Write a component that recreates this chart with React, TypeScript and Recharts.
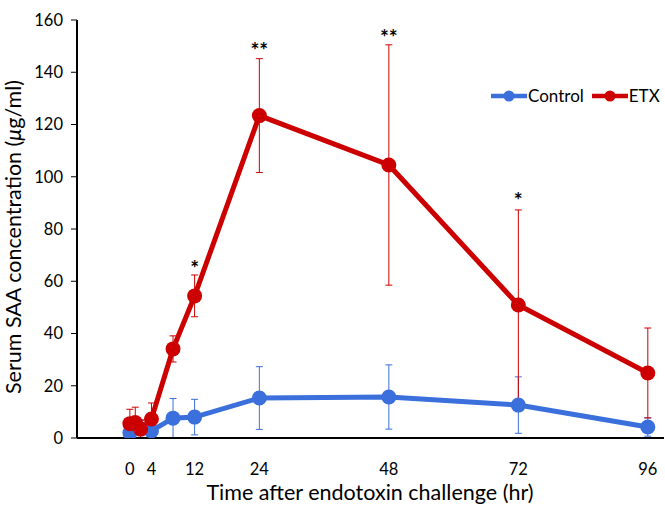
import { ComposedChart, Line, XAxis, YAxis, ErrorBar, LabelList } from 'recharts'

const hours = [0, 1, 2, 4, 8, 12, 24, 48, 72, 96]
const controlMean = [2.0, 4.0, 3.5, 2.7, 7.6, 8.0, 15.3, 15.7, 12.6, 4.2]
const controlSd = [2.0, 4.0, 3.5, 1.5, 7.5, 6.8, 12.0, 12.3, 10.8, 3.5]
const etxMean = [5.5, 5.9, 3.4, 7.3, 34.1, 54.4, 123.4, 104.5, 50.9, 24.9]
const etxSd = [5.5, 5.9, 3.4, 6.1, 5.0, 8.0, 21.8, 46.0, 36.4, 17.2]
const stars = ['', '', '', '', '', '*', '**', '**', '*', '']
const starLevel = [null, null, null, null, null, 64, 147.5, 152.5, 90, null]

const xTicks = [0, 4, 12, 24, 48, 72, 96]
const yTicks = [0, 20, 40, 60, 80, 100, 120, 140, 160]

const BLUE = '#3B6FDB'
const RED = '#CC0000'
const FONT = 'Lato, "DejaVu Sans", sans-serif'

const rows = hours.map((h, i) => ({
  hour: h,
  control: controlMean[i],
  controlErr: controlSd[i],
  etx: etxMean[i],
  etxErr: etxSd[i],
  star: starLevel[i],
}))

const legendItems = [
  { name: 'Control', color: BLUE },
  { name: 'ETX', color: RED },
]

function LegendBox() {
  return (
    <div
      style={{
        position: 'absolute',
        top: 85,
        left: 491,
        display: 'flex',
        alignItems: 'center',
        fontFamily: FONT,
        fontSize: 17,
        color: '#000',
      }}
    >
      {legendItems.map((it) => (
        <div key={it.name} style={{ display: 'flex', alignItems: 'center', marginRight: 8 }}>
          <svg width={36} height={12}>
            <line x1={0} y1={6} x2={36} y2={6} stroke={it.color} strokeWidth={4.5} />
            <circle cx={18} cy={6} r={5.5} fill={it.color} />
          </svg>
          <span style={{ marginLeft: 1 }}>{it.name}</span>
        </div>
      ))}
    </div>
  )
}

function StarLabel(props: any) {
  const { x, y, index } = props
  const txt = stars[index]
  if (!txt) return null
  return (
    <text x={x} y={y} textAnchor="middle" dominantBaseline="middle" fontFamily={FONT} fontWeight="bold" fontSize={21} fill="#000">
      {txt}
    </text>
  )
}

export default function App() {
  return (
    <div style={{ position: 'absolute', left: 0, top: 0, width: 665, height: 506, background: '#fff', overflow: 'hidden' }}>
      <ComposedChart width={665} height={506} data={rows} margin={{ top: 20, right: 1, bottom: 8, left: 0 }}>
        <XAxis
          dataKey="hour"
          type="number"
          domain={[-9.8, 99]}
          ticks={xTicks}
          allowDataOverflow
          tickLine={false}
          tickSize={0}
          tickMargin={25}
          height={60}
          axisLine={{ stroke: '#000', strokeWidth: 2 }}
          tick={{ fill: '#000', fontSize: 16.5, fontFamily: FONT }}
          label={() => (
            <text x={370} y={500} textAnchor="middle" fontFamily={FONT} fontSize={21.5} fill="#000">
              Time after endotoxin challenge (hr)
            </text>
          )}
        />
        <YAxis
          type="number"
          domain={[0, 160]}
          ticks={yTicks}
          allowDataOverflow
          width={77}
          tickSize={6}
          tickMargin={8}
          tickLine={{ stroke: '#000', strokeWidth: 1 }}
          axisLine={{ stroke: '#000', strokeWidth: 2 }}
          tick={{ fill: '#000', fontSize: 16.5, fontFamily: FONT }}
          label={() => (
            <text
              x={16}
              y={237}
              textAnchor="middle"
              dominantBaseline="middle"
              transform="rotate(-90 16 237)"
              fontFamily={FONT}
              fontSize={21.5}
              fill="#000"
            >
              Serum SAA concentration (<tspan fontStyle="italic">μ</tspan>g/ml)
            </text>
          )}
        />
        <Line
          dataKey="control"
          name="Control"
          stroke={BLUE}
          strokeWidth={5}
          dot={{ r: 7.5, fill: BLUE, stroke: 'none' }}
          activeDot={false}
          isAnimationActive={false}
        >
          <ErrorBar dataKey="controlErr" direction="y" width={3.5} stroke={BLUE} strokeWidth={1} />
        </Line>
        <Line
          dataKey="etx"
          name="ETX"
          stroke={RED}
          strokeWidth={5}
          dot={{ r: 7.5, fill: RED, stroke: 'none' }}
          activeDot={false}
          isAnimationActive={false}
        >
          <ErrorBar dataKey="etxErr" direction="y" width={3.5} stroke={RED} strokeWidth={1} />
        </Line>
        <Line dataKey="star" stroke="none" dot={false} activeDot={false} legendType="none" isAnimationActive={false}>
          <LabelList dataKey="star" content={<StarLabel />} />
        </Line>
      </ComposedChart>
      <LegendBox />
    </div>
  )
}
